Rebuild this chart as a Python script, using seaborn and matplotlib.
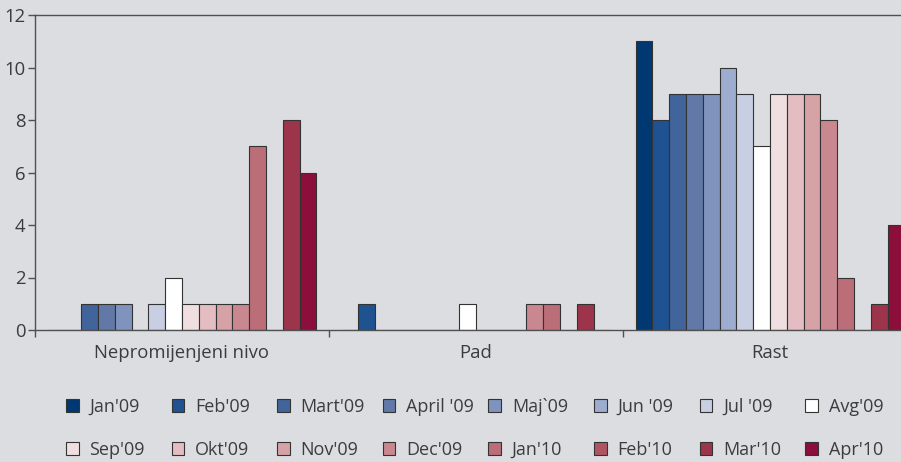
import matplotlib
matplotlib.use("Agg")
import matplotlib.pyplot as plt
import seaborn as sns
import pandas as pd

categories = ["Nepromijenjeni nivo", "Pad", "Rast"]
months = ["Jan'09", "Feb'09", "Mart'09", "April '09", "Maj`09", "Jun '09", "Jul '09", "Avg'09",
          "Sep'09", "Okt'09", "Nov'09", "Dec'09", "Jan'10", "Feb'10", "Mar'10", "Apr'10"]
colors = ["#003872", "#1f5290", "#41649a", "#6279a8", "#7f93bd", "#9eadcf", "#c8cfe2", "#ffffff",
          "#f0dfe0", "#e3bdc2", "#d6a2a6", "#c98890", "#bb6e78", "#ae5563", "#9c344b", "#8c0e3a"]
nepromijenjeni = [0, 0, 1, 1, 1, 0, 1, 2, 1, 1, 1, 1, 7, 0, 8, 6]
pad = [0, 1, 0, 0, 0, 0, 0, 1, 0, 0, 0, 1, 1, 0, 1, 0]
rast = [11, 8, 9, 9, 9, 10, 9, 7, 9, 9, 9, 8, 2, 0, 1, 4]
yticks = [0, 2, 4, 6, 8, 10, 12]

rows = []
for cat, vals in zip(categories, [nepromijenjeni, pad, rast]):
    for m, v in zip(months, vals):
        rows.append({"cat": cat, "month": m, "val": v})
df = pd.DataFrame(rows)

sns.set_theme(style="white")
plt.rcParams['font.family'] = ['Open Sans', 'DejaVu Sans']
bg = "#dcdde0"
txt = "#3c3c3c"
spine = "#505050"

fig = plt.figure(figsize=(9.01, 4.62), dpi=100, facecolor=bg)
ax = fig.add_axes([35 / 901, 132 / 462, 882 / 901, 315 / 462])
ax.set_facecolor(bg)

sns.barplot(data=df, x="cat", y="val", hue="month", order=categories, hue_order=months,
            palette=colors, width=0.914, edgecolor="#333333", linewidth=0.8,
            saturation=1, ax=ax, legend=True)

ax.set_xlim(-0.5, 2.5)
ax.set_ylim(0, 12)
ax.set_yticks(yticks)
ax.set_xlabel("")
ax.set_ylabel("")
for s in ["left", "bottom", "top", "right"]:
    ax.spines[s].set_visible(True)
    ax.spines[s].set_color(spine)
    ax.spines[s].set_linewidth(1.0)

ax.set_xticks([-0.5, 0.5, 1.5, 2.5])
ax.set_xticklabels([])
ax.set_xticks([0, 1, 2], minor=True)
ax.set_xticklabels(categories, minor=True)
ax.tick_params(axis="x", which="major", direction="out", length=5, width=1, color=spine, bottom=True)
ax.tick_params(axis="x", which="minor", length=0, pad=10, labelsize=13.3, labelcolor=txt)
ax.tick_params(axis="y", direction="out", length=5, width=1, color=spine, left=True, pad=2,
               labelsize=13.3, labelcolor=txt)

handles, labels = ax.get_legend_handles_labels()
ax.get_legend().remove()
# one two-row legend per column, placed at evenly spaced positions
for i in range(8):
    hs = [handles[i], handles[i + 8]]
    ls = [labels[i], labels[i + 8]]
    x0 = (66 + i * 105.6) / 901
    leg = fig.legend(hs, ls, loc="upper left", bbox_to_anchor=(x0, 1 - 398 / 462),
                     ncol=1, frameon=False, fontsize=13, handlelength=0.7, handleheight=0.7,
                     handletextpad=0.6, labelspacing=1.38, borderpad=0, borderaxespad=0)
    for t in leg.get_texts():
        t.set_color(txt)

fig.savefig("out.png", dpi=100, facecolor=bg)
